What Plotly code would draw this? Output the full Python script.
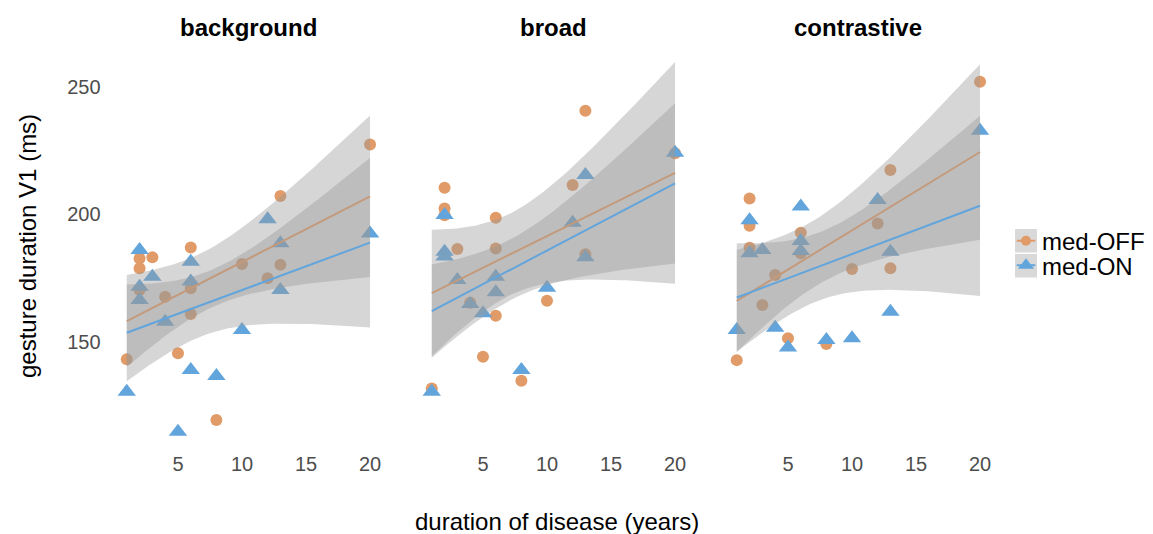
import numpy as np
import plotly.graph_objects as go

panels = ["background", "broad", "contrastive"]

# duration of disease (years) and gesture duration (ms)
bg_off_x = [1, 2, 2, 2, 3, 4, 5, 6, 6, 6, 8, 10, 12, 13, 13, 20]
bg_off_y = [143.0, 182.6, 178.7, 170.2, 183.0, 167.6, 145.4, 186.9, 170.9, 160.8, 119.2, 180.4, 174.8, 207.1, 180.1, 227.3]
bg_on_x = [1, 2, 2, 2, 3, 4, 5, 6, 6, 6, 8, 10, 12, 13, 13, 20]
bg_on_y = [130.3, 185.9, 171.5, 166.3, 175.4, 157.8, 114.6, 181.3, 173.5, 138.8, 136.5, 154.5, 197.9, 188.5, 170.2, 192.4]

br_off_x = [1, 2, 2, 2, 3, 4, 5, 6, 6, 6, 8, 10, 12, 13, 13, 20]
br_off_y = [131.6, 210.3, 202.2, 199.5, 186.3, 165.2, 144.0, 198.5, 186.5, 160.1, 134.6, 166.0, 211.4, 240.5, 184.2, 223.8]
br_on_x = [1, 2, 2, 2, 3, 4, 5, 6, 6, 8, 10, 12, 13, 13, 20]
br_on_y = [130.3, 199.6, 185.2, 183.3, 174.1, 164.7, 161.1, 175.4, 169.3, 138.8, 171.1, 196.6, 215.3, 183.0, 224.0]

co_off_x = [1, 2, 2, 2, 3, 4, 5, 6, 6, 8, 10, 12, 13, 13, 20]
co_off_y = [142.7, 206.1, 195.4, 186.8, 164.3, 176.1, 151.3, 192.7, 184.6, 149.0, 178.4, 196.3, 217.3, 178.7, 251.9]
co_on_x = [1, 2, 2, 3, 4, 5, 6, 6, 6, 8, 10, 12, 13, 13, 20]
co_on_y = [154.5, 197.6, 184.6, 185.9, 155.4, 147.7, 202.9, 189.4, 185.5, 150.6, 151.3, 205.5, 185.2, 161.7, 232.7]

x_ticks = [5, 10, 15, 20]
y_ticks = [150, 200, 250]
groups = ["med-OFF", "med-ON"]

data = {
    "background": {"med-OFF": (bg_off_x, bg_off_y), "med-ON": (bg_on_x, bg_on_y)},
    "broad": {"med-OFF": (br_off_x, br_off_y), "med-ON": (br_on_x, br_on_y)},
    "contrastive": {"med-OFF": (co_off_x, co_off_y), "med-ON": (co_on_x, co_on_y)},
}

colors = {"med-OFF": "rgb(224,155,104)", "med-ON": "rgb(98,165,220)"}
symbols = {"med-OFF": "circle", "med-ON": "triangle-up"}
sizes = {"med-OFF": 12, "med-ON": 16}

T975 = {12: 2.1788, 13: 2.1604, 14: 2.1448, 15: 2.1314, 16: 2.1199}


def lm_band(x, y, n_out=80):
    x = np.asarray(x, float)
    y = np.asarray(y, float)
    n = len(x)
    X = np.column_stack([np.ones(n), x])
    beta, *_ = np.linalg.lstsq(X, y, rcond=None)
    resid = y - X @ beta
    s2 = resid @ resid / (n - 2)
    xs = np.linspace(x.min(), x.max(), n_out)
    Xs = np.column_stack([np.ones(n_out), xs])
    cov = s2 * np.linalg.inv(X.T @ X)
    se = np.sqrt(np.einsum("ij,jk,ik->i", Xs, cov, Xs))
    fit = Xs @ beta
    t = T975[n - 2]
    return xs, fit, fit - t * se, fit + t * se


W, H = 1153, 534
FONT = "Liberation Sans, Arial, sans-serif"


def fx(px):
    return px / W


def fy(py):
    return 1 - py / H


panel_px = [(114.6, 382.2), (419.6, 687.2), (724.6, 992.2)]
doms = [(fx(a), fx(b)) for a, b in panel_px]
ydom = [fy(450.4), fy(42.4)]

fig = go.Figure()

for i, p in enumerate(panels):
    xa = "x" if i == 0 else f"x{i+1}"
    ya = "y" if i == 0 else f"y{i+1}"
    for g in groups:
        xv, yv = data[p][g]
        fig.add_trace(go.Scatter(
            x=xv, y=yv, mode="markers", xaxis=xa, yaxis=ya, showlegend=False,
            marker=dict(color=colors[g], symbol=symbols[g], size=sizes[g], line=dict(width=0)),
            hoverinfo="skip"))
    for g in groups:
        xv, yv = data[p][g]
        xs, fit, lo, hi = lm_band(xv, yv)
        fig.add_trace(go.Scatter(
            x=np.concatenate([xs, xs[::-1]]), y=np.concatenate([hi, lo[::-1]]),
            fill="toself", fillcolor="rgba(153,153,153,0.4)", line=dict(width=0),
            mode="lines", xaxis=xa, yaxis=ya, showlegend=False, hoverinfo="skip"))
        fig.add_trace(go.Scatter(
            x=xs, y=fit, mode="lines", xaxis=xa, yaxis=ya, showlegend=False,
            line=dict(color=colors[g], width=2), hoverinfo="skip"))

# manual legend keys on their own small axis
for j, g in enumerate(groups):
    yk = 1 - j
    fig.add_trace(go.Scatter(
        x=[0.08, 0.92], y=[yk, yk], mode="lines", xaxis="x4", yaxis="y4", showlegend=False,
        line=dict(color=colors[g], width=2), hoverinfo="skip"))
    fig.add_trace(go.Scatter(
        x=[0.5], y=[yk], mode="markers", xaxis="x4", yaxis="y4", showlegend=False,
        marker=dict(color=colors[g], symbol=symbols[g], size=sizes[g] - 2, line=dict(width=0)),
        hoverinfo="skip"))

axis_font = dict(family=FONT, size=20, color="#4D4D4D")
for i in range(3):
    xk = "xaxis" if i == 0 else f"xaxis{i+1}"
    yk = "yaxis" if i == 0 else f"yaxis{i+1}"
    fig.layout[xk] = dict(domain=list(doms[i]), range=[0.05, 20.95], tickvals=x_ticks,
                          showgrid=False, zeroline=False, showline=False, ticks="",
                          tickfont=axis_font, anchor="y" if i == 0 else f"y{i+1}")
    fig.layout[yk] = dict(domain=ydom, range=[107.3, 267.3], tickvals=y_ticks,
                          showgrid=False, zeroline=False, showline=False,
                          ticks="outside", ticklen=9, tickcolor="rgba(0,0,0,0)",
                          tickfont=axis_font, showticklabels=(i == 0),
                          anchor="x" if i == 0 else f"x{i+1}")

fig.layout["xaxis4"] = dict(domain=[fx(1015), fx(1037)], range=[0, 1], visible=False,
                            fixedrange=True, anchor="y4")
fig.layout["yaxis4"] = dict(domain=[fy(277.5), fy(228.5)], range=[-0.5, 1.5], visible=False,
                            fixedrange=True, anchor="x4")

annotations = []
for i, p in enumerate(panels):
    annotations.append(dict(
        text=f"<b>{p}</b>", x=(doms[i][0] + doms[i][1]) / 2, y=fy(27),
        xref="paper", yref="paper", showarrow=False, xanchor="center", yanchor="middle",
        font=dict(family=FONT, size=24, color="black")))
annotations.append(dict(
    text="duration of disease (years)", x=fx(557), y=fy(521),
    xref="paper", yref="paper", showarrow=False, xanchor="center", yanchor="middle",
    font=dict(family=FONT, size=24, color="black")))
annotations.append(dict(
    text="gesture duration V1 (ms)", x=fx(27), y=fy(246),
    xref="paper", yref="paper", showarrow=False, xanchor="center", yanchor="middle",
    textangle=-90, font=dict(family=FONT, size=24, color="black")))
for j, g in enumerate(groups):
    annotations.append(dict(
        text=g, x=fx(1040), y=fy(241 + 25 * j), xref="paper", yref="paper",
        showarrow=False, xanchor="left", yanchor="middle",
        font=dict(family=FONT, size=24, color="black")))

shapes = []
for j in range(2):
    shapes.append(dict(type="rect", xref="paper", yref="paper",
                       x0=fx(1015), x1=fx(1037),
                       y0=fy(252.5 + 25 * j), y1=fy(229 + 25 * j),
                       fillcolor="rgb(217,217,217)", line=dict(width=0), layer="below"))

fig.update_layout(
    width=W, height=H, margin=dict(l=0, r=0, t=0, b=0),
    plot_bgcolor="white", paper_bgcolor="white",
    annotations=annotations, shapes=shapes,
    showlegend=False,
)

fig.write_html("out.html", config={"displayModeBar": False},
               post_script="document.body.style.margin='0';")
